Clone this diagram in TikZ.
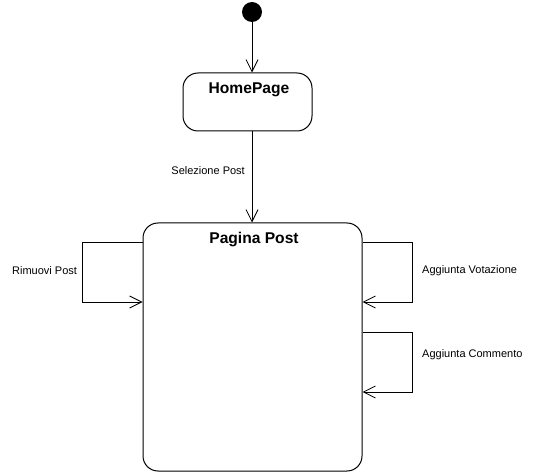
\documentclass[tikz,border=0pt]{standalone}
\usepackage{fontspec}
\setmainfont{Liberation Sans}
\usetikzlibrary{arrows.meta}
\begin{document}
\begin{tikzpicture}[x=1pt,y=-1pt,
  state/.style={draw, line width=1pt, rounded corners=15pt, inner sep=0pt},
  title/.style={font=\bfseries\fontsize{15.6}{18}\selectfont, inner sep=0pt},
  lbl/.style={font=\fontsize{11}{13}\selectfont, inner sep=0pt},
  trans/.style={line width=0.8pt, -{Straight Barb[length=12pt,width=12pt,line width=0.8pt]}}]
  \useasboundingbox (0,0) rectangle (536,476);
  % initial pseudostate
  \node[circle, fill=black, minimum size=20pt, inner sep=0pt] (init) at (252,12) {};
  % states
  \node[state, minimum width=129pt, minimum height=58pt] (home) at (247.5,102) {};
  \node[title] (homet) at (249,90) {HomePage};
  \node[state, minimum width=219pt, minimum height=248pt] (post) at (252.5,347) {};
  \node[title] (postt) at (254,240) {Pagina Post};
  % transitions
  \draw[trans] (init) -- (init |- home.north);
  \draw[trans] (home.south -| init) -- (init |- post.north);
  \node[lbl, anchor=east] (sel) at (245,171) {Selezione Post};
  % self transitions
  \coordinate (rmA) at (post.west |- 0,242);
  \coordinate (rmB) at (post.west |- 0,302);
  \draw[trans] (rmA) -- (82,242) -- (82,302) -- (rmB);
  \node[lbl, anchor=west] (rml) at (12,271) {Rimuovi Post};
  \coordinate (vtA) at (post.east |- 0,242);
  \coordinate (vtB) at (post.east |- 0,302);
  \draw[trans] (vtA) -- (412,242) -- (412,302) -- (vtB);
  \node[lbl, anchor=west] (vtl) at (422,271) {Aggiunta Votazione};
  \coordinate (cmA) at (post.east |- 0,332);
  \coordinate (cmB) at (post.east |- 0,392);
  \draw[trans] (cmA) -- (412,332) -- (412,392) -- (cmB);
  \node[lbl, anchor=west] (cml) at (422,355) {Aggiunta Commento};
\end{tikzpicture}
\end{document}
